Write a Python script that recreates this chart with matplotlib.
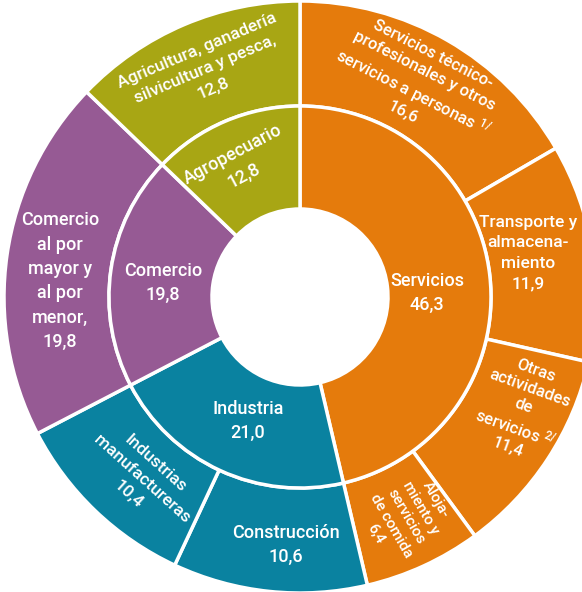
import matplotlib
matplotlib.use('Agg')
import matplotlib.pyplot as plt

# sectores (anillo interior) y actividades (anillo exterior)
inner_labels = ['Servicios\n46,3', 'Industria\n21,0', 'Comercio\n19,8', 'Agropecuario\n12,8']
inner_values = [46.3, 21.0, 19.8, 12.8]

outer_labels = ['Servicios técnico-\nprofesionales y otros\nservicios a personas $^{1/}$\n16,6',
                'Transporte y\nalmacena-\nmiento\n11,9',
                'Otras\nactividades\nde\nservicios $^{2/}$\n11,4',
                'Aloja-\nmiento y\nservicios\nde comida\n6,4',
                'Construcción\n10,6',
                'Industrias\nmanufactureras\n10,4',
                'Comercio\nal por\nmayor y\nal por\nmenor,\n19,8',
                'Agricultura, ganadería\nsilvicultura y pesca,\n12,8']
outer_values = [16.6, 11.9, 11.4, 6.4, 10.6, 10.4, 19.8, 12.8]

orange, teal, purple, olive = '#E57B0C', '#0A82A0', '#965A94', '#A8A614'
inner_colors = [orange, teal, purple, olive]
outer_colors = [orange] * 4 + [teal] * 2 + [purple, olive]

plt.rcParams['font.family'] = ['Roboto', 'DejaVu Sans']
plt.rcParams['mathtext.default'] = 'regular'

fig = plt.figure(figsize=(5.82, 5.92), dpi=100)
ax = fig.add_axes([0, 0, 1, 1])

R_out, R_mid, R_in = 296, 191, 88
ax.pie(outer_values, radius=R_out, colors=outer_colors, startangle=90, counterclock=False,
       wedgeprops=dict(width=R_out - R_mid, edgecolor='white', linewidth=2.5))
ax.pie(inner_values, radius=R_mid, colors=inner_colors, startangle=90, counterclock=False,
       wedgeprops=dict(width=R_mid - R_in, edgecolor='white', linewidth=2.5))

ax.set_xlim(-300, 282)
ax.set_ylim(-295, 297)
ax.set_aspect('equal')
ax.axis('off')

txt = dict(color='white', fontsize=13, fontweight='medium', ha='center', va='center',
           linespacing=1.4)

# etiquetas anillo interior (x, y, rotacion)
inner_pos = [(127, 4, 0), (-52, -124, 0), (-137, 14, 0), (-62, 132, 28)]
for lab, (x, y, r) in zip(inner_labels, inner_pos):
    ax.text(x, y, lab, rotation=r, **txt)

outer_pos = [(118, 214, -27), (228, 44, 0), (222, -112, -20), (106, -220, -60),
             (-14, -248, 0), (-158, -182, -42), (-240, 16, 0), (-95, 228, 23)]
outer_size = [12, 12.5, 12, 11, 13, 12.5, 13, 12.5]
for lab, (x, y, r), s in zip(outer_labels, outer_pos, outer_size):
    ax.text(x, y, lab, rotation=r, rotation_mode='anchor',
            **{**txt, 'fontsize': s, 'linespacing': 1.45 if s >= 12.5 else 1.3})

fig.savefig('out.png', dpi=100)
